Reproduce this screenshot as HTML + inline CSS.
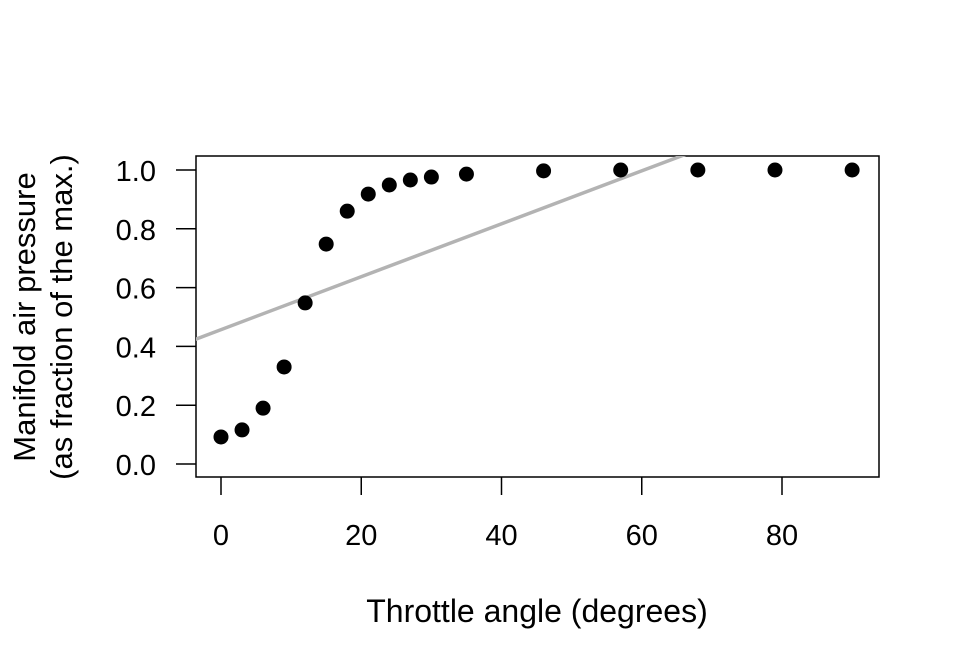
<!DOCTYPE html>
<html><head><meta charset="utf-8"><style>body{margin:0;background:#fff}svg{display:block;font-family:"Liberation Sans",Arial,sans-serif}</style></head>
<body>
<svg id="chart" width="960" height="672">
<defs><clipPath id="clip"><rect x="196" y="156" width="683" height="321"/></clipPath></defs>
<rect x="196" y="156" width="683" height="321" fill="none" stroke="#000" stroke-width="1.5"/>
<g id="axes"></g>
<g id="marks" clip-path="url(#clip)"></g>
<text x="537" y="622" font-size="32" text-anchor="middle">Throttle angle (degrees)</text>
<text transform="translate(35,317) rotate(-90)" font-size="31" text-anchor="middle">Manifold air pressure</text>
<text transform="translate(72,317) rotate(-90)" font-size="31" text-anchor="middle">(as fraction of the max.)</text>
</svg>
<script>
const angles=[0,3,6,9,12,15,18,21,24,27,30,35,46,57,68,79,90];
const pressures=[0.092,0.116,0.19,0.33,0.548,0.748,0.86,0.918,0.949,0.966,0.976,0.986,0.997,1.0,1.0,1.0,1.0];
const xTicks=[0,20,40,60,80];
const yTicks=[0,0.2,0.4,0.6,0.8,1.0];
const fitIntercept=0.457, fitSlope=0.009;
const NS="http://www.w3.org/2000/svg";
const xs=v=>221+v*7.0125, ys=v=>464-v*294;
function mk(t,a,p){const e=document.createElementNS(NS,t);for(const k in a)e.setAttribute(k,a[k]);p.appendChild(e);return e;}
const ax=document.getElementById('axes'), mg=document.getElementById('marks');
xTicks.forEach(v=>{
 const t=mk('line',{x1:xs(v),x2:xs(v),y1:477,y2:495,stroke:'#000','stroke-width':1.5},ax);
 
 
 const tx=mk('text',{x:xs(v),y:545,'font-size':29,'text-anchor':'middle'},ax);tx.textContent=v;
 
 
});
yTicks.forEach(v=>{
 const t=mk('line',{x1:176,x2:196,y1:ys(v),y2:ys(v),stroke:'#000','stroke-width':1.5},ax);
 
 
 const tx=mk('text',{x:156,y:ys(v)+11,'font-size':29,'text-anchor':'end'},ax);tx.textContent=v.toFixed(1);
 
 
});
const f=mk('line',{x1:xs(-10),y1:ys(fitIntercept-10*fitSlope),x2:xs(100),y2:ys(fitIntercept+100*fitSlope),stroke:'#b3b3b3','stroke-width':3.5},mg);


angles.forEach((a,i)=>{
 const c=mk('circle',{cx:xs(a),cy:ys(pressures[i]),r:7.5,fill:'#000'},mg);
 
 
});
</script>
</body></html>
